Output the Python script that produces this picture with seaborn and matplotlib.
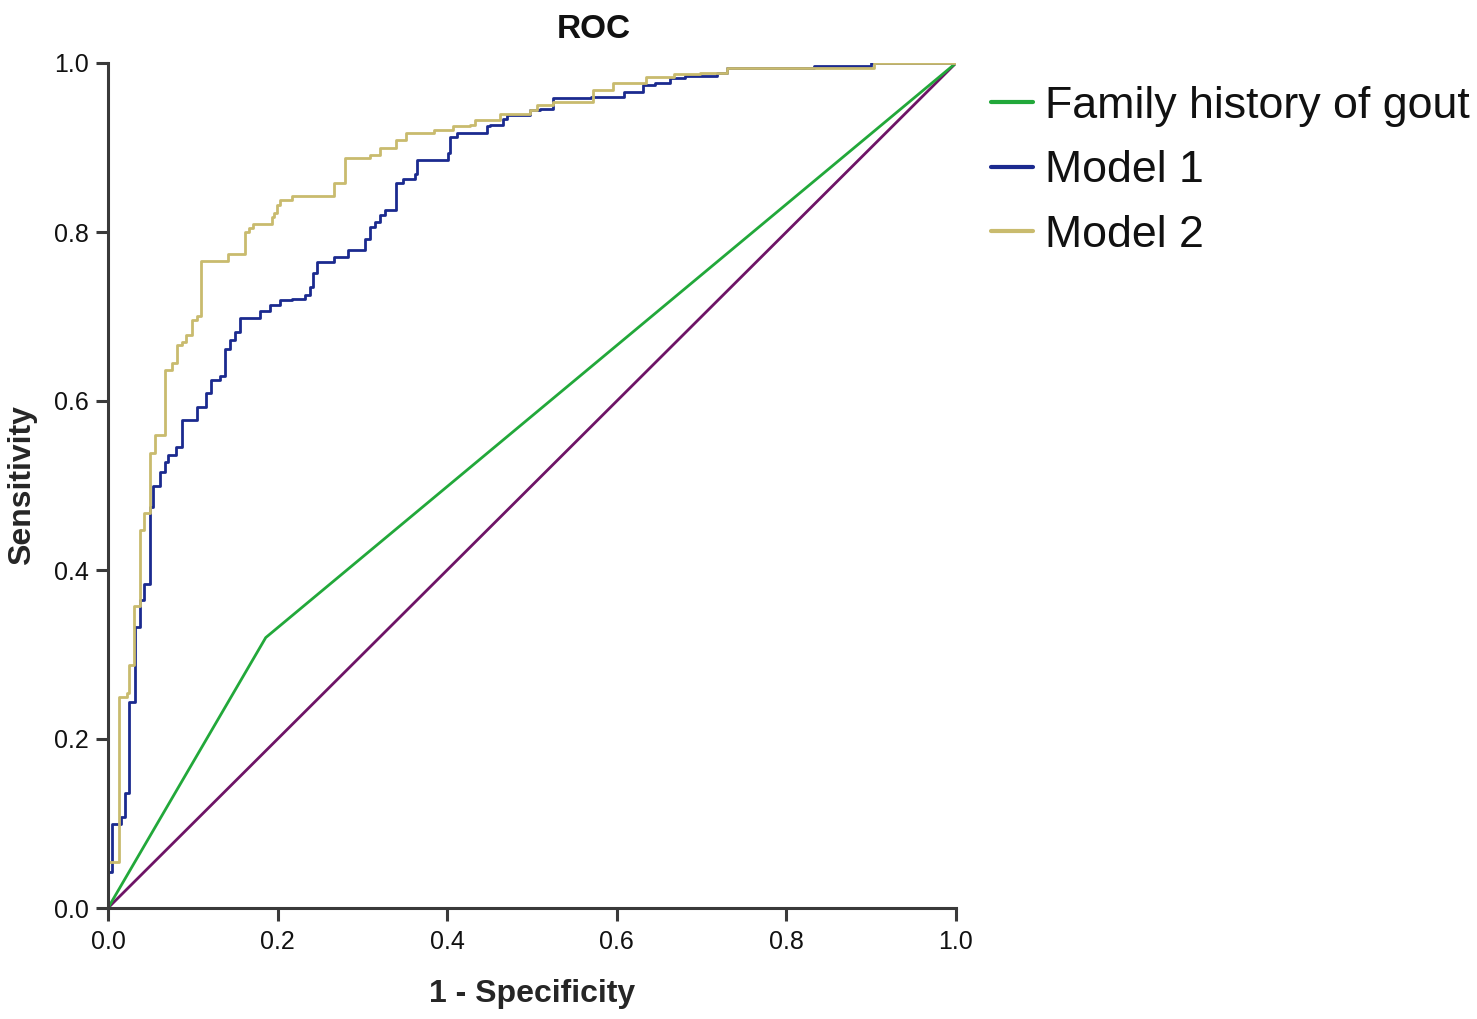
import matplotlib
matplotlib.use("Agg")
import matplotlib.pyplot as plt
from matplotlib import font_manager
import seaborn as sns

# ---- data ----
ref_x = [0.0, 1.0]
ref_y = [0.0, 1.0]

fam_x = [0.0, 0.186, 1.0]
fam_y = [0.0, 0.320, 1.0]

m1_x = [0.0, 0.0, 0.0045, 0.015, 0.020, 0.025, 0.032, 0.038, 0.042, 0.049, 0.053,
        0.061, 0.067, 0.071, 0.080, 0.087, 0.105, 0.116, 0.122, 0.132, 0.138,
        0.144, 0.150, 0.156, 0.179, 0.191, 0.203, 0.217, 0.232, 0.238, 0.242,
        0.246, 0.266, 0.283, 0.303, 0.309, 0.315, 0.321, 0.327, 0.340, 0.348,
        0.362, 0.364, 0.401, 0.403, 0.411, 0.447, 0.450, 0.466, 0.470, 0.498,
        0.509, 0.525, 0.570, 0.608, 0.631, 0.645, 0.663, 0.680, 0.718, 0.730,
        0.832, 0.900, 1.0]
m1_y = [0.0, 0.043, 0.100, 0.108, 0.136, 0.244, 0.333, 0.364, 0.384, 0.475, 0.499,
        0.516, 0.528, 0.536, 0.546, 0.578, 0.593, 0.609, 0.625, 0.629, 0.662,
        0.672, 0.682, 0.698, 0.706, 0.714, 0.720, 0.721, 0.725, 0.735, 0.751,
        0.765, 0.771, 0.779, 0.792, 0.806, 0.812, 0.820, 0.826, 0.858, 0.863,
        0.869, 0.885, 0.893, 0.913, 0.917, 0.925, 0.927, 0.934, 0.938, 0.944,
        0.946, 0.958, 0.960, 0.966, 0.974, 0.976, 0.982, 0.985, 0.988, 0.994,
        0.997, 1.0, 1.0]

m2_x = [0.0, 0.0, 0.013, 0.022, 0.025, 0.031, 0.038, 0.042, 0.050, 0.056, 0.067,
        0.075, 0.081, 0.087, 0.092, 0.099, 0.105, 0.110, 0.142, 0.162, 0.166,
        0.171, 0.193, 0.196, 0.199, 0.203, 0.217, 0.266, 0.279, 0.309, 0.321,
        0.340, 0.352, 0.384, 0.407, 0.427, 0.433, 0.462, 0.498, 0.506, 0.525,
        0.572, 0.596, 0.635, 0.667, 0.698, 0.730, 0.903, 1.0]
m2_y = [0.0, 0.055, 0.250, 0.254, 0.288, 0.357, 0.447, 0.467, 0.538, 0.560, 0.637,
        0.645, 0.666, 0.670, 0.678, 0.696, 0.701, 0.766, 0.774, 0.800, 0.805,
        0.810, 0.818, 0.822, 0.832, 0.838, 0.843, 0.858, 0.887, 0.891, 0.899,
        0.909, 0.917, 0.921, 0.925, 0.927, 0.933, 0.940, 0.944, 0.950, 0.954,
        0.968, 0.976, 0.984, 0.987, 0.988, 0.994, 1.0, 1.0]

labels = ["Family history of gout", "Model 1", "Model 2"]
x_ticks = [0.0, 0.2, 0.4, 0.6, 0.8, 1.0]
y_ticks = [0.0, 0.2, 0.4, 0.6, 0.8, 1.0]

# ---- style ----
sns.set_theme(style="white")
plt.rcParams["font.family"] = ["Liberation Sans", "DejaVu Sans"]

installed = {f.name for f in font_manager.fontManager.ttflist}
tick_family = ["Liberation Sans Narrow", "Liberation Sans"] if "Liberation Sans Narrow" in installed else ["Liberation Sans"]

C_REF = "#6e1466"
C_FAM = "#22a83a"
C_M1 = "#1b2a8f"
C_M2 = "#c9bb6e"

fig = plt.figure(figsize=(14.77, 10.19), dpi=100)
ax = fig.add_axes([108 / 1477, 1 - 908 / 1019, (956 - 108) / 1477, (908 - 63) / 1019])

sns.lineplot(x=ref_x, y=ref_y, ax=ax, color=C_REF, lw=2.0, sort=False, estimator=None)
sns.lineplot(x=fam_x, y=fam_y, ax=ax, color=C_FAM, lw=2.0, sort=False, estimator=None,
             label=labels[0])
sns.lineplot(x=m1_x, y=m1_y, ax=ax, color=C_M1, lw=2.0, sort=False, estimator=None,
             drawstyle="steps-post", label=labels[1])
sns.lineplot(x=m2_x, y=m2_y, ax=ax, color=C_M2, lw=2.0, sort=False, estimator=None,
             drawstyle="steps-post", label=labels[2])

ax.set_xlim(0, 1)
ax.set_ylim(0, 1)
ax.margins(0)
ax.set_xticks(x_ticks)
ax.set_yticks(y_ticks)
ax.set_xticklabels([f"{t:.1f}" for t in x_ticks], family=tick_family, fontsize=18)
ax.set_yticklabels([f"{t:.1f}" for t in y_ticks], family=tick_family, fontsize=18)

for s in ["top", "right"]:
    ax.spines[s].set_visible(False)
for s in ["left", "bottom"]:
    ax.spines[s].set_color("#3a3a3a")
    ax.spines[s].set_linewidth(2.2)
ax.tick_params(axis="both", which="major", bottom=True, left=True, direction="out",
               length=9, width=2.2, color="#3a3a3a", labelcolor="#111111", pad=5)
ax.tick_params(axis="x", pad=7)

ax.set_xlabel("1 - Specificity", fontsize=23, fontweight="bold", labelpad=18)
ax.set_ylabel("Sensitivity", fontsize=23, fontweight="bold", labelpad=12)

fig.text(594 / 1477, 1 - 30 / 1019, "ROC", ha="center", va="center",
         fontsize=24, fontweight="bold", color="#111111")

leg = ax.legend(loc="upper left", bbox_to_anchor=(991 / 1477, 1 - 86 / 1019),
                bbox_transform=fig.transFigure, frameon=False, fontsize=32.2,
                handlelength=0.93, handletextpad=0.28, labelspacing=0.52,
                borderpad=0, borderaxespad=0)
for t in leg.get_texts():
    t.set_color("#111111")
for h in leg.get_lines():
    h.set_linewidth(3)

fig.savefig("out.png", dpi=100)
